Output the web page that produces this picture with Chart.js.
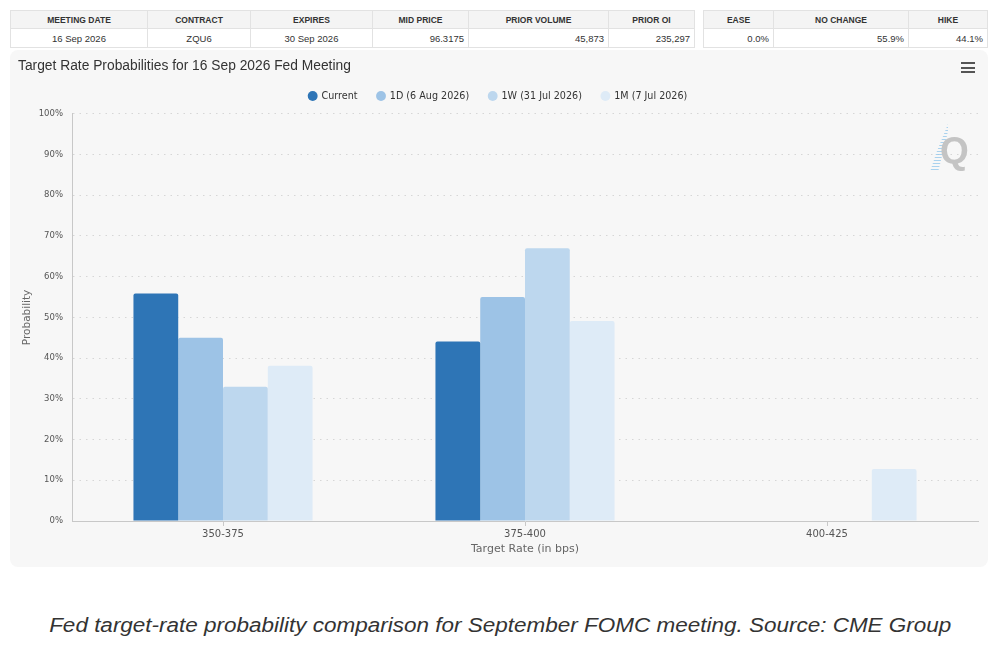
<!DOCTYPE html>
<html lang="en">
  <head>
    <meta charset="UTF-8" />
    <title>Target Rate Probabilities</title>
    <style>
      body,
      html {
        margin: 0;
        background: #fff;
        width: 1000px;
        height: 651px;
        overflow: hidden;
        font-family: "Liberation Sans", Arial, sans-serif;
      }
      table.info {
        position: absolute;
        top: 10px;
        border-collapse: collapse;
        color: #333;
        table-layout: fixed;
      }
      table.info th,
      table.info td {
        border: 1px solid #e2e2e2;
        padding: 0 4px;
        white-space: nowrap;
      }
      table.info th {
        background: #f4f4f4;
        font-size: 8.5px;
        font-weight: bold;
        height: 17px;
        text-align: center;
      }
      table.info td {
        font-size: 9.5px;
        height: 18px;
        background: #fff;
      }
      td.c { text-align: center; }
      td.r { text-align: right; }
      .panel {
        position: absolute;
        left: 10px;
        top: 50px;
        width: 978px;
        height: 517px;
        background: #f7f7f7;
        border-radius: 8px;
      }
      .chart-box {
        position: absolute;
        left: 0;
        top: 0;
        width: 978px;
        height: 517px;
      }
      .menu {
        position: absolute;
        left: 951px;
        top: 12px;
        width: 14px;
      }
      .menu span {
        display: block;
        height: 2px;
        background: #555;
        margin-bottom: 2.5px;
      }
      .logo {
        position: absolute;
        left: 918px;
        top: 78px;
        width: 50px;
        height: 50px;
      }
      .logo .q {
        position: absolute;
        left: 12px;
        top: 2px;
        font: bold 37px "Liberation Sans", Arial, sans-serif;
        color: #c4c4c4;
      }
      .logo .streak {
        position: absolute;
        left: 2px;
        top: -4px;
        width: 18px;
        height: 48px;
        background: repeating-linear-gradient(180deg, rgba(150, 200, 235, 0.8) 0 1px, transparent 1px 3px);
        clip-path: polygon(100% 0, 100% 15%, 45% 100%, 0 100%, 35% 60%);
      }
      .caption {
        position: absolute;
        left: 0;
        top: 614px;
        width: 1000px;
        text-align: center;
        font-style: italic;
        font-size: 19.5px;
        color: #333;
      }
      .caption span {
        display: inline-block;
        transform-origin: center;
      }
    </style>
  </head>
  <body>
    <table class="info" style="left: 10px">
      <colgroup>
        <col style="width: 137px" />
        <col style="width: 103px" />
        <col style="width: 122px" />
        <col style="width: 96px" />
        <col style="width: 140px" />
        <col style="width: 86px" />
      </colgroup>
      <tr>
        <th>MEETING DATE</th><th>CONTRACT</th><th>EXPIRES</th><th>MID PRICE</th><th>PRIOR VOLUME</th><th>PRIOR OI</th>
      </tr>
      <tr>
        <td class="c">16 Sep 2026</td><td class="c">ZQU6</td><td class="c">30 Sep 2026</td>
        <td class="r">96.3175</td><td class="r">45,873</td><td class="r">235,297</td>
      </tr>
    </table>
    <table class="info" style="left: 703px">
      <colgroup>
        <col style="width: 70px" />
        <col style="width: 135px" />
        <col style="width: 79px" />
      </colgroup>
      <tr><th>EASE</th><th>NO CHANGE</th><th>HIKE</th></tr>
      <tr><td class="r">0.0%</td><td class="r">55.9%</td><td class="r">44.1%</td></tr>
    </table>

    <div class="panel">
      <div class="chart-box"><canvas id="myChart"></canvas></div>
      <div class="menu"><span></span><span></span><span></span></div>
      <div class="logo"><div class="streak"></div><div class="q">Q</div></div>
    </div>

    <div class="caption"><span id="caption">Fed target-rate probability comparison for September FOMC meeting. Source: CME Group</span></div>

    <script src="https://cdn.jsdelivr.net/npm/chart.js"></script>
    <script>
      // Faixas de taxa (eixo X)
      const rateRanges = ["350-375", "375-400", "400-425"];

      // Probabilidades (%) por data de referência
      const current = [55.9, 44.1, 0];
      const oneDay = [45.0, 55.0, 0];
      const oneWeek = [33.0, 67.0, 0];
      const oneMonth = [38.1, 49.1, 12.8];

      const seriesLabels = ["Current", "1D (6 Aug 2026)", "1W (31 Jul 2026)", "1M (7 Jul 2026)"];
      const seriesColors = ["#2e75b6", "#9dc3e6", "#bdd7ee", "#deebf7"];
      const yTicks = [0, 10, 20, 30, 40, 50, 60, 70, 80, 90, 100];

      const tickFont = "'DejaVu Sans', sans-serif";

      const datasets = [current, oneDay, oneWeek, oneMonth].map((values, i) => ({
        label: seriesLabels[i],
        data: values,
        backgroundColor: seriesColors[i],
        borderWidth: 0,
        borderRadius: { topLeft: 2, topRight: 2 },
        borderSkipped: "bottom",
        barPercentage: 1,
        categoryPercentage: 0.593,
      }));

      // legenda: altura fixa para o gráfico começar no lugar certo
      const legendFitPlugin = {
        id: "legendFit",
        beforeInit(chart) {
          const fit = chart.legend.fit;
          chart.legend.fit = function () {
            fit.bind(chart.legend)();
            this.height += 3;
          };
        },
      };

      const ctx = document.getElementById("myChart").getContext("2d");
      const myChart = new Chart(ctx, {
        type: "bar",
        data: { labels: rateRanges, datasets: datasets },
        plugins: [legendFitPlugin],
        options: {
          responsive: true,
          maintainAspectRatio: false,
          animation: false,
          layout: { padding: { left: 8, right: 10, top: 0, bottom: 0 } },
          plugins: {
            title: {
              display: true,
              text: "Target Rate Probabilities for 16 Sep 2026 Fed Meeting",
              align: "start",
              color: "#333",
              font: { family: "'Liberation Sans', Arial, sans-serif", size: 13.8, weight: "normal", lineHeight: 0.85 },
              padding: { top: 10, bottom: 0 },
            },
            legend: {
              position: "top",
              labels: {
                usePointStyle: true,
                pointStyle: "circle",
                boxWidth: 8,
                boxHeight: 7,
                padding: 19.5,
                color: "#333",
                font: { family: tickFont, size: 9.6 },
              },
            },
            tooltip: { enabled: false },
          },
          scales: {
            x: {
              afterFit(scale) {
                scale.height = 46;
              },
              grid: {
                display: true,
                drawOnChartArea: false,
                offset: false,
                tickLength: 5,
                tickColor: "#c8c8c8",
              },
              border: { color: "#c8c8c8" },
              ticks: { color: "#555", padding: 2, font: { family: tickFont, size: 10 } },
              title: {
                display: true,
                text: "Target Rate (in bps)",
                color: "#666",
                font: { family: tickFont, size: 11 },
                padding: { top: 0, bottom: 11 },
              },
            },
            y: {
              min: 0,
              max: 100,
              afterFit(scale) {
                scale.width = 54;
              },
              afterBuildTicks(scale) {
                scale.ticks = yTicks.map((v) => ({ value: v }));
              },
              grid: {
                color: "#d6d6d6",
                drawTicks: false,
              },
              border: { color: "#c8c8c8", dash: [1.5, 5] },
              ticks: {
                color: "#555",
                padding: 9,
                font: { family: tickFont, size: 8.5 },
                callback: (v) => v + "%",
              },
              title: {
                display: true,
                text: "Probability",
                color: "#666",
                font: { family: tickFont, size: 10.5 },
                padding: { top: 2.7, bottom: 0 },
              },
            },
          },
        },
      });

      // ajusta a largura da legenda da imagem
      const cap = document.getElementById("caption");
      const w = cap.getBoundingClientRect().width;
      cap.style.transform = "scaleX(" + (902 / w).toFixed(3) + ")";
    </script>
  </body>
</html>
